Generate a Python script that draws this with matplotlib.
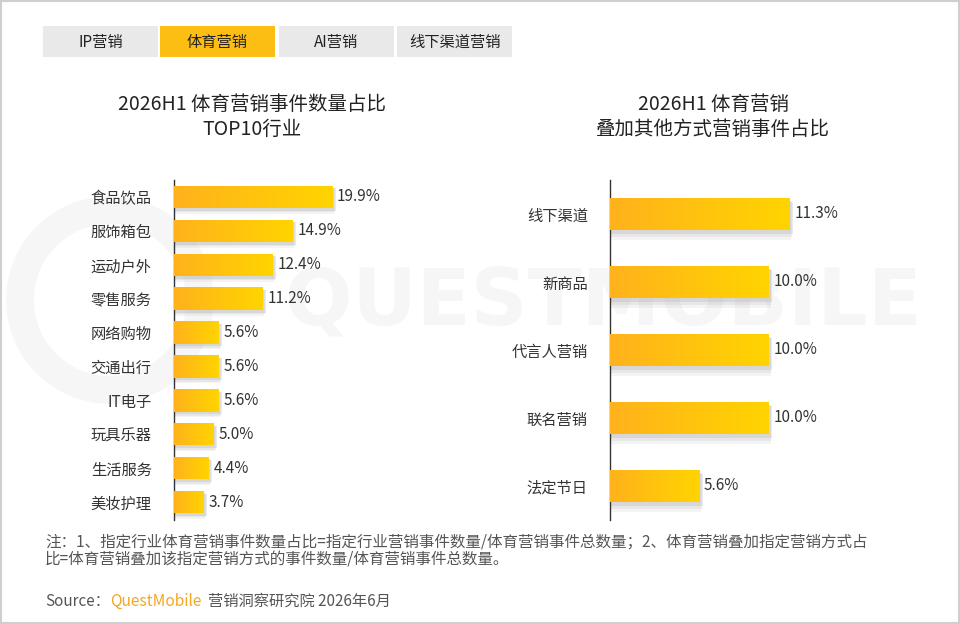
import numpy as np
import matplotlib
matplotlib.use('Agg')
import matplotlib.pyplot as plt
from matplotlib.patches import Rectangle, Circle

plt.rcParams['font.family'] = ['Noto Sans CJK SC', 'DejaVu Sans']

# data
tabs = ['IP营销', '体育营销', 'AI营销', '线下渠道营销']
active_tab = 1

left_title = '2026H1 体育营销事件数量占比\nTOP10行业'
left_cats = ['食品饮品', '服饰箱包', '运动户外', '零售服务', '网络购物',
             '交通出行', 'IT电子', '玩具乐器', '生活服务', '美妆护理']
left_vals = [19.9, 14.9, 12.4, 11.2, 5.6, 5.6, 5.6, 5.0, 4.4, 3.7]

right_title = '2026H1 体育营销\n叠加其他方式营销事件占比'
right_cats = ['线下渠道', '新商品', '代言人营销', '联名营销', '法定节日']
right_vals = [11.3, 10.0, 10.0, 10.0, 5.6]

note = ('注：1、指定行业体育营销事件数量占比=指定行业营销事件数量/体育营销事件总数量；2、体育营销叠加指定营销方式占\n'
        '比=体育营销叠加该指定营销方式的事件数量/体育营销事件总数量。')

W, H = 960, 624
fig = plt.figure(figsize=(W / 100, H / 100), dpi=100)
fig.patch.set_facecolor('white')


def px(x0, y0, w, h):
    return [x0 / W, 1 - (y0 + h) / H, w / W, h / H]


# background layer with watermark
bg = fig.add_axes([0, 0, 1, 1], zorder=-5)
bg.set_xlim(0, W)
bg.set_ylim(H, 0)
bg.axis('off')
bg.text(603, 302, 'QUESTMOBILE', ha='center', va='center', fontsize=57,
        fontweight='bold', color='#f6f6f6', family='DejaVu Sans')
bg.add_patch(Circle((110, 300), 90, fill=False, ec='#f6f6f6', lw=20))
bg.add_patch(Rectangle((1, 1), W - 2, H - 2, fill=False, ec='#cfcfcf', lw=1.5))

# tabs
tab_x = [43, 160, 279, 397]
for i, t in enumerate(tabs):
    col = '#FDBE14' if i == active_tab else '#e9e9e9'
    bg.add_patch(Rectangle((tab_x[i], 26), 115, 31, fc=col, ec='none'))
    bg.text(tab_x[i] + 57.5, 42, t, ha='center', va='center',
            fontsize=11, color='#222222')

grad = np.linspace(0, 1, 256).reshape(1, -1)
cmap = matplotlib.colors.LinearSegmentedColormap.from_list('g', ['#FFB21C', '#FFD400'])


def draw_bars(ax, cats, vals, h, fs, k):
    y = np.arange(len(cats))
    v = np.array(vals)
    # soft shadow
    for j, a in enumerate([0.10, 0.14, 0.20]):
        ax.barh(y + h * 0.12 + 0.02 * (2 - j), v + k * (1.5 + j), height=h + 0.05 * (2 - j),
                color='#9a9a9a', alpha=a, zorder=1, lw=0)
    bars = ax.barh(y, vals, height=h, color='none', zorder=2)
    for b in bars:
        x0, y0 = b.get_x(), b.get_y()
        im = ax.imshow(grad, cmap=cmap, aspect='auto', zorder=3,
                       extent=[x0, x0 + b.get_width(), y0 + b.get_height(), y0])
        im.set_clip_path(b)
    for yi, vv in zip(y, vals):
        ax.text(vv + k * 5, yi, f'{vv:.1f}%', va='center',
                ha='left', fontsize=fs, color='#333333')
    ax.set_yticks(y)
    ax.set_yticklabels(cats, fontsize=fs, color='#333333')
    ax.set_xticks([])
    for s in ['top', 'right', 'bottom']:
        ax.spines[s].set_visible(False)
    ax.spines['left'].set_color('#333333')
    ax.spines['left'].set_linewidth(1)
    ax.tick_params(axis='y', length=0, pad=16)
    ax.patch.set_alpha(0)


# left chart (about 7.94 px per percent)
axl = fig.add_axes(px(174, 180, 252, 340))
axl.set_xlim(0, 252 / 7.94)
axl.set_ylim(len(left_cats) - 0.47, -0.5)
draw_bars(axl, left_cats, left_vals, 0.66, 11, 1 / 7.94)

# right chart (about 15.9 px per percent)
axr = fig.add_axes(px(610, 180, 250, 340))
axr.set_xlim(0, 250 / 15.9)
axr.set_ylim(len(right_cats) - 0.5, -0.5)
draw_bars(axr, right_cats, right_vals, 0.48, 11, 1 / 15.9)

bg.text(252, 117, left_title, ha='center', va='center',
        fontsize=14, color='#222222', linespacing=1.2)
bg.text(713, 117, right_title, ha='center', va='center',
        fontsize=14, color='#222222', linespacing=1.2)

bg.text(45, 551, note, ha='left', va='center', fontsize=11.2,
        color='#555555', linespacing=1.05)
bg.text(45, 601, 'Source：', ha='left', va='center', fontsize=11, color='#555555')
bg.text(110, 601, 'QuestMobile', ha='left', va='center', fontsize=11.2, color='#F5A623')
bg.text(208, 601, '营销洞察研究院 2026年6月', ha='left', va='center',
        fontsize=11, color='#555555')

fig.savefig('out.png', dpi=100, facecolor='white')
